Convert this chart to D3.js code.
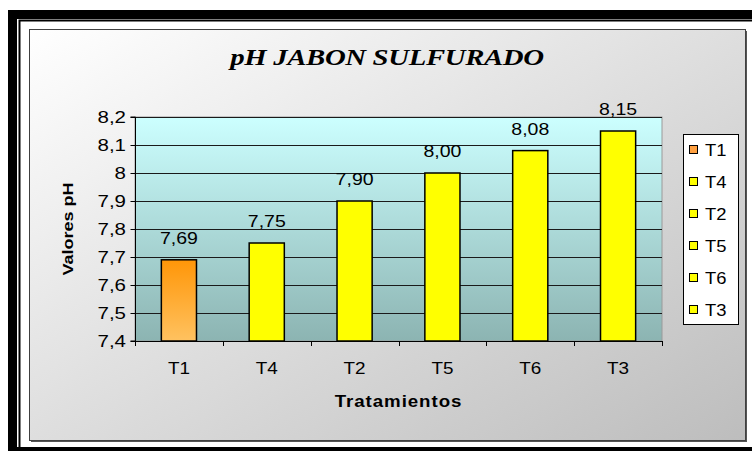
<!DOCTYPE html>
<html><head><meta charset="utf-8">
<script src="https://cdn.jsdelivr.net/npm/d3@7"></script>
<style>body{margin:0;background:#fff;}svg{display:block;}</style>
</head><body>
<script>
const categories = ["T1","T4","T2","T5","T6","T3"];
const values = [7.69, 7.75, 7.90, 8.00, 8.08, 8.15];
const valueLabels = ["7,69","7,75","7,90","8,00","8,08","8,15"];
const tickValues = [7.4,7.5,7.6,7.7,7.8,7.9,8.0,8.1,8.2];
const tickLabels = ["7,4","7,5","7,6","7,7","7,8","7,9","8","8,1","8,2"];
const title = "pH JABON SULFURADO";
const xTitle = "Tratamientos";
const yTitle = "Valores pH";

const W = 752, H = 451;
const SANS = "'Liberation Sans', Arial, sans-serif";
const SERIF = "'Liberation Serif', 'Times New Roman', 'DejaVu Serif', serif";
const SX = 1.22; // horizontal stretch of the original's text

const svg = d3.select("body").append("svg").attr("width", W).attr("height", H);
const defs = svg.append("defs");

const bgGrad = defs.append("linearGradient").attr("id","bg").attr("x1","0").attr("y1","0").attr("x2","1").attr("y2","1");
bgGrad.append("stop").attr("offset","0").attr("stop-color","#ffffff");
bgGrad.append("stop").attr("offset","1").attr("stop-color","#bdbdbd");

const plotGrad = defs.append("linearGradient").attr("id","plotbg").attr("x1","0").attr("y1","0").attr("x2","0").attr("y2","1");
plotGrad.append("stop").attr("offset","0").attr("stop-color","#ccffff");
plotGrad.append("stop").attr("offset","1").attr("stop-color","#8cb4b2");

const orGrad = defs.append("linearGradient").attr("id","orange").attr("x1","0").attr("y1","0").attr("x2","0").attr("y2","1");
orGrad.append("stop").attr("offset","0").attr("stop-color","#ff9608");
orGrad.append("stop").attr("offset","1").attr("stop-color","#ffc260");

function label(g, txt, x, y, opts) {
  const o = Object.assign({size:16, anchor:"middle", weight:"normal", style:"normal", family:SANS, sx:SX, rot:0, ls:0}, opts||{});
  return g.append("text")
    .attr("transform", `translate(${x},${y}) rotate(${o.rot}) scale(${o.sx},1)`)
    .attr("text-anchor", o.anchor).attr("font-family", o.family).attr("font-size", o.size)
    .attr("font-weight", o.weight).attr("font-style", o.style).attr("letter-spacing", o.ls)
    .attr("fill", "#000").text(txt);
}

// Outer black frame
svg.append("rect").attr("x",8).attr("y",10).attr("width",9).attr("height",H-10).attr("fill","#000");
svg.append("rect").attr("x",8).attr("y",10).attr("width",W-8).attr("height",9).attr("fill","#000");
svg.append("rect").attr("x",8).attr("y",447).attr("width",W-8).attr("height",4).attr("fill","#000");
svg.append("path").attr("d","M19.5,447 V20.5 H752").attr("fill","none").attr("stroke","#000").attr("stroke-width",2);

// Chart area
svg.append("rect").attr("x",31).attr("y",31).attr("width",716).attr("height",411).attr("fill","#555");
svg.append("rect").attr("x",29.5).attr("y",29.5).attr("width",716).attr("height",411)
  .attr("fill","url(#bg)").attr("stroke","#404040").attr("stroke-width",1);

const L = 135, R = 662, T = 117, B = 341;
const x = d3.scaleBand().domain(categories).range([L,R]).paddingInner(0.6).paddingOuter(0.3);
const xb = d3.scaleLinear().domain([0,categories.length]).range([L,R]);
const y = d3.scaleLinear().domain([7.4,8.2]).range([B,T]);

// Plot background
svg.append("rect").attr("x",L).attr("y",T).attr("width",R-L).attr("height",B-T)
  .attr("fill","url(#plotbg)").attr("stroke","#9a9a9a").attr("stroke-width",1);

// Gridlines
svg.append("g").selectAll("line").data(tickValues.slice(1)).join("line")
  .attr("x1",L).attr("x2",R).attr("y1",d=>Math.round(y(d))+0.5).attr("y2",d=>Math.round(y(d))+0.5)
  .attr("stroke","#1a1a1a").attr("stroke-width",1);

// Bars
svg.append("g").selectAll("rect").data(values).join("rect")
  .attr("x",(d,i)=>x(categories[i])).attr("width",x.bandwidth())
  .attr("y",d=>y(d)).attr("height",d=>B-y(d))
  .attr("fill",(d,i)=>i===0?"url(#orange)":"#ffff00")
  .attr("stroke","#000").attr("stroke-width",1.5);

// Value labels
const vl = svg.append("g");
values.forEach((d,i)=> label(vl, valueLabels[i], x(categories[i])+x.bandwidth()/2, y(d)-16, {size:16}));

// Y axis
const yAxis = svg.append("g").attr("transform",`translate(${L+0.5},0)`)
  .call(d3.axisLeft(y).tickValues(tickValues).tickSize(5).tickFormat(""));
yAxis.select(".domain").attr("stroke","#000").attr("d",`M-5,${B}H0V${T}H-5`);
yAxis.selectAll(".tick line").attr("stroke","#000");
const yl = svg.append("g");
tickValues.forEach((v,i)=> label(yl, tickLabels[i], L-9, y(v)+6, {size:16, anchor:"end", sx:1.28}));

// X axis
svg.append("line").attr("x1",L).attr("x2",R).attr("y1",B+0.5).attr("y2",B+0.5).attr("stroke","#000");
svg.append("g").selectAll("line").data(d3.range(categories.length+1)).join("line")
  .attr("x1",d=>Math.round(xb(d))+0.5).attr("x2",d=>Math.round(xb(d))+0.5)
  .attr("y1",B).attr("y2",B+5).attr("stroke","#000");
const xl = svg.append("g");
categories.forEach(c=> label(xl, c, x(c)+x.bandwidth()/2, B+33, {size:16, sx:1.18}));

// Axis titles
label(svg, xTitle, (L+R)/2, 407, {size:16, weight:"bold", sx:1.17, ls:0.8});
label(svg, yTitle, 73, (T+B)/2, {size:15, weight:"bold", rot:-90, sx:1.2});

// Title
label(svg, title, 387, 65, {size:24, weight:"bold", style:"italic", family:SERIF, sx:1.2, ls:-0.3});

// Legend
const legX = 683, legY = 134;
svg.append("rect").attr("x",legX+0.5).attr("y",legY+0.5).attr("width",55).attr("height",190)
  .attr("fill","#fff").attr("stroke","#000");
const leg = svg.append("g");
categories.forEach((c,i)=>{
  const cy = legY + 16 + i*32;
  leg.append("rect").attr("x",legX+6.5).attr("y",cy-4.5).attr("width",8).attr("height",8)
    .attr("fill",i===0?"#ffa040":"#ffff00").attr("stroke","#000");
  label(leg, c, legX+22, cy+6, {size:16, anchor:"start", sx:1.15});
});
</script>
</body></html>
